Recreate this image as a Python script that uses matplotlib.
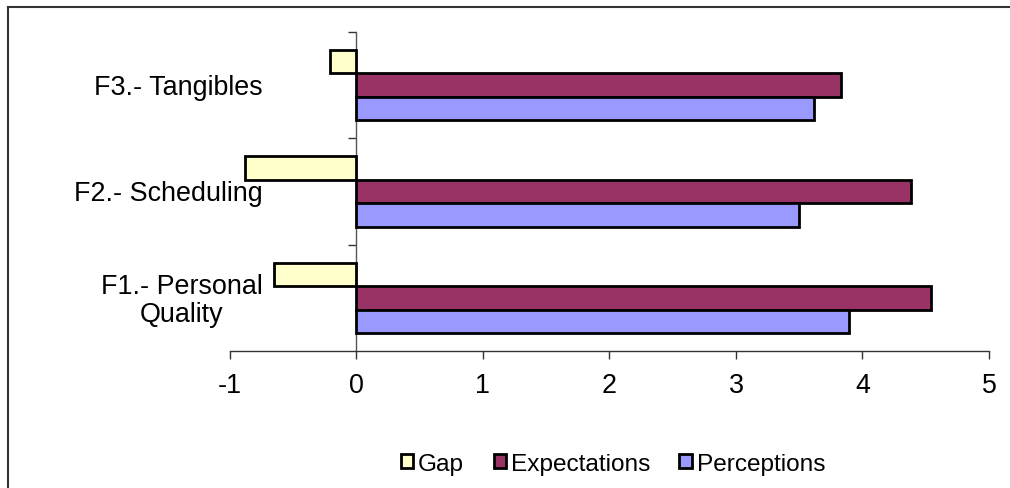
import matplotlib
matplotlib.use("Agg")
import matplotlib.pyplot as plt
from matplotlib.lines import Line2D
from matplotlib.transforms import ScaledTranslation
import numpy as np

plt.rcParams['font.family'] = ['Liberation Sans', 'DejaVu Sans']

categories = ["F1.- Personal\nQuality", "F2.- Scheduling", "F3.- Tangibles"]
perceptions = [3.89, 3.50, 3.62]
expectations = [4.54, 4.38, 3.83]
gap = [p - e for p, e in zip(perceptions, expectations)]

series_names = ["Gap", "Expectations", "Perceptions"]
colors = ["#FFFFCC", "#993366", "#9999FF"]
x_ticks = [-1, 0, 1, 2, 3, 4, 5]

fig = plt.figure(figsize=(10.10, 4.89), dpi=100)
ax = fig.add_axes([0.2277, 0.2802, 0.7515, 0.6523])

y = np.arange(len(categories))
h = 0.22
offsets = [h, 0.0, -h]
for vals, off, col, name in zip([gap, expectations, perceptions], offsets, colors, series_names):
    ax.barh(y + off, vals, height=h, color=col, edgecolor="black", linewidth=2.0, label=name, zorder=3)

ax.set_xlim(-1, 5)
ax.set_ylim(-0.5, len(categories) - 0.5)

for s in ("top", "right"):
    ax.spines[s].set_visible(False)
ax.spines["left"].set_position(("data", 0))
ax.spines["left"].set_color("#555555")
ax.spines["left"].set_linewidth(1.0)
ax.spines["bottom"].set_color("#333333")
ax.spines["bottom"].set_linewidth(1.0)

ax.set_xticks(x_ticks)
ax.set_xticklabels([str(t) for t in x_ticks])
ax.tick_params(axis="x", direction="out", length=6, width=1.0, color="#333333",
               labelsize=19.4, pad=9)

# boundary ticks between categories on the zero axis
ax.set_yticks([])
ax.set_yticks(np.arange(-0.5, len(categories), 1.0)[1:], minor=True)
ax.tick_params(axis="y", which="minor", direction="out", length=6, width=1.0, color="#333333")

# category labels, right-aligned a fixed distance left of the zero axis
label_shift = ScaledTranslation(-0.94, -0.02, fig.dpi_scale_trans)
for yi, cat in zip(y, categories):
    ax.text(0, yi, cat, ha="right", va="center", multialignment="center",
            fontsize=19.4, linespacing=1.12, transform=ax.transData + label_shift)

handles = [plt.Rectangle((0, 0), 1, 1, facecolor=c, edgecolor="black", linewidth=2.0) for c in colors]
fig.legend(handles, series_names, loc="center", bbox_to_anchor=(0.607, 0.049), ncol=3,
           frameon=False, fontsize=17.6, handlelength=0.5, handleheight=0.5,
           handletextpad=0.2, columnspacing=1.2)

# outer chart frame
x0 = 7.5 / 1010
y1 = 1 - 7.5 / 489
fig.add_artist(Line2D([x0, 1.0], [y1, y1], transform=fig.transFigure, color="#333333", linewidth=1.5))
fig.add_artist(Line2D([x0, x0], [0.0, y1], transform=fig.transFigure, color="#333333", linewidth=1.5))

fig.savefig("out.png", dpi=100)
